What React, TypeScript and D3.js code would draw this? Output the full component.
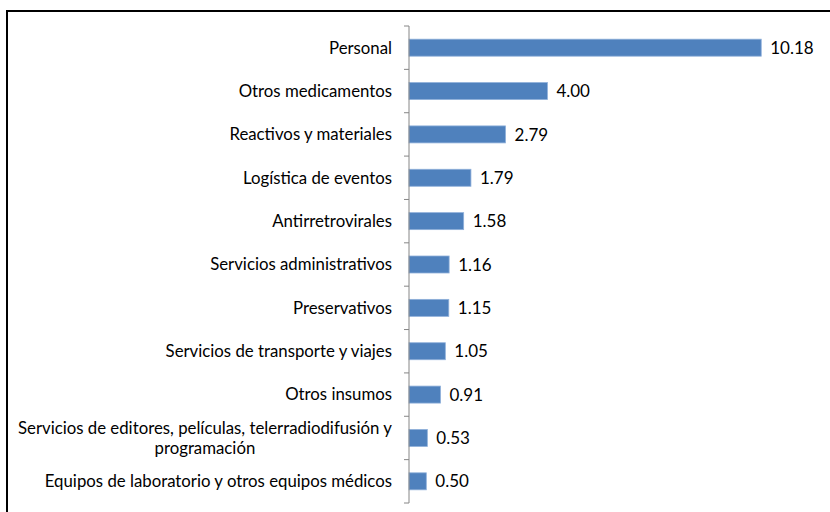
import React from "react";
import * as d3 from "d3";

const categories: string[][] = [
  ["Personal"],
  ["Otros medicamentos"],
  ["Reactivos y materiales"],
  ["Logística de eventos"],
  ["Antirretrovirales"],
  ["Servicios administrativos"],
  ["Preservativos"],
  ["Servicios de transporte y viajes"],
  ["Otros insumos"],
  ["Servicios de editores, películas, telerradiodifusión y", "programación"],
  ["Equipos de laboratorio y otros equipos médicos"],
];
const values: number[] = [10.18, 4.0, 2.79, 1.79, 1.58, 1.16, 1.15, 1.05, 0.91, 0.53, 0.5];
const valueLabels: string[] = ["10.18", "4.00", "2.79", "1.79", "1.58", "1.16", "1.15", "1.05", "0.91", "0.53", "0.50"];

const W = 830;
const H = 512;
const FONT = "'Lato', 'DejaVu Sans', sans-serif";
const LABEL_SIZE = 16.8;

export default function App() {
  const idx = categories.map((_, i) => String(i));
  const y = d3.scaleBand<string>().domain(idx).range([26, 503]).paddingInner(0).paddingOuter(0);
  const x = d3.scaleLinear().domain([0, 12]).range([409, 824.2]);
  const barH = 17;
  const step = y.step();
  const ticks = d3.range(categories.length + 1).map((i) => 26 + i * step);
  const labelRight = 392;

  return (
    <div style={{ position: "absolute", left: 0, top: 0 }}>
      <svg width={W} height={H} style={{ display: "block", background: "#fff" }}>
        <rect x={7} y={11} width={W + 20} height={H + 20} fill="#fff" stroke="#000" strokeWidth={2} />
        {categories.map((lines, i) => {
          const cy = (y(String(i)) as number) + step / 2;
          const bx = x(0);
          const bw = x(values[i]) - x(0);
          const lh = 20;
          const n = lines.length;
          return (
            <g key={i}>
              <rect x={bx} y={cy - barH / 2} width={bw} height={barH} fill="#4F81BD" stroke="#8FB0DA" strokeWidth={0.8} />
              <text x={x(values[i]) + 9} y={cy} dy="0.36em" fontFamily={FONT} fontSize={17} fill="#000">
                {valueLabels[i]}
              </text>
              {n === 1 ? (
                <text x={labelRight} y={cy} dy="0.35em" textAnchor="end" fontFamily={FONT} fontSize={LABEL_SIZE} fill="#000">
                  {lines[0]}
                </text>
              ) : (
                <MultiLabel lines={lines} cy={cy} lh={lh} right={labelRight} />
              )}
            </g>
          );
        })}
        <line x1={409} x2={409} y1={26} y2={503} stroke="#868686" strokeWidth={1} />
        {ticks.map((t, i) => (
          <line key={i} x1={404} x2={409} y1={t} y2={t} stroke="#868686" strokeWidth={1} />
        ))}
      </svg>
    </div>
  );
}

function MultiLabel({ lines, cy, lh, right }: { lines: string[]; cy: number; lh: number; right: number }) {
  const ref = React.useRef<SVGTextElement | null>(null);
  const [w, setW] = React.useState(374);
  React.useLayoutEffect(() => {
    if (ref.current) {
      const bb = ref.current.getBBox();
      setW(bb.width);
    }
  }, []);
  const cx = right - w / 2;
  const top = cy - ((lines.length - 1) * lh) / 2;
  return (
    <g>
      <text ref={ref} x={right} y={top} dy="0.35em" textAnchor="end" fontFamily={FONT} fontSize={LABEL_SIZE} fill="#000" opacity={0}>
        {lines[0]}
      </text>
      {lines.map((l, j) => (
        <text key={j} x={cx} y={top + j * lh} dy="0.35em" textAnchor="middle" fontFamily={FONT} fontSize={LABEL_SIZE} fill="#000">
          {l}
        </text>
      ))}
    </g>
  );
}
